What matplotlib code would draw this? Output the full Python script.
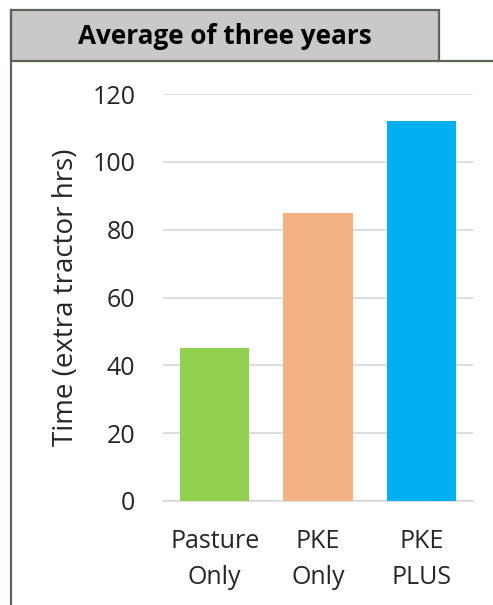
import matplotlib.pyplot as plt
from matplotlib.patches import Rectangle
from matplotlib.lines import Line2D

categories = ["Pasture\nOnly", "PKE\nOnly", "PKE\nPLUS"]
hours = [45, 85, 112]
bar_colors = ["#92D050", "#F4B183", "#00B0F0"]
yticks = [0, 20, 40, 60, 80, 100, 120]

W, H = 493, 605
plt.rcParams['font.family'] = ['Open Sans', 'DejaVu Sans']

fig = plt.figure(figsize=(W / 100, H / 100), dpi=100)


def fx(px):
    return px / W


def fy(py):
    return 1 - py / H


# title box and frame lines
edge = "#5b6457"
fig.patches.append(Rectangle((fx(11), fy(61)), fx(439) - fx(11), fy(10) - fy(61),
                             transform=fig.transFigure, facecolor="#c9c9c9",
                             edgecolor=edge, linewidth=1.6, zorder=1))
fig.lines.append(Line2D([fx(439), 1], [fy(61), fy(61)], transform=fig.transFigure,
                        color=edge, linewidth=1.6))
fig.lines.append(Line2D([fx(11), fx(11)], [fy(10), 0], transform=fig.transFigure,
                        color=edge, linewidth=1.6))
fig.text(fx(225), fy(37), "Average of three years", ha="center", va="center",
         fontsize=18.8, fontweight="bold", color="#000000")

ax = fig.add_axes([fx(163), fy(501), fx(473) - fx(163), fy(94) - fy(501)])
x = range(len(categories))
ax.bar(x, hours, width=0.67, color=bar_colors, zorder=3)
ax.set_xlim(-0.5, 2.5)
ax.set_ylim(0, 120)
ax.set_yticks(yticks)
ax.set_xticks(list(x))
ax.set_xticklabels(categories, fontsize=18, color="#262626", linespacing=1.6)
ax.tick_params(axis="y", labelsize=18, labelcolor="#262626", length=0, pad=20)
ax.tick_params(axis="x", length=0, pad=20)
ax.grid(axis="y", color="#d9d9d9", linewidth=1.2, zorder=0)
for s in ["top", "right", "left"]:
    ax.spines[s].set_visible(False)
ax.spines["bottom"].set_color("#d9d9d9")
ax.spines["bottom"].set_linewidth(1.2)
ax.set_ylabel("Time (extra tractor hrs)", fontsize=20, color="#262626", labelpad=9)

fig.savefig("out.png", dpi=100)
